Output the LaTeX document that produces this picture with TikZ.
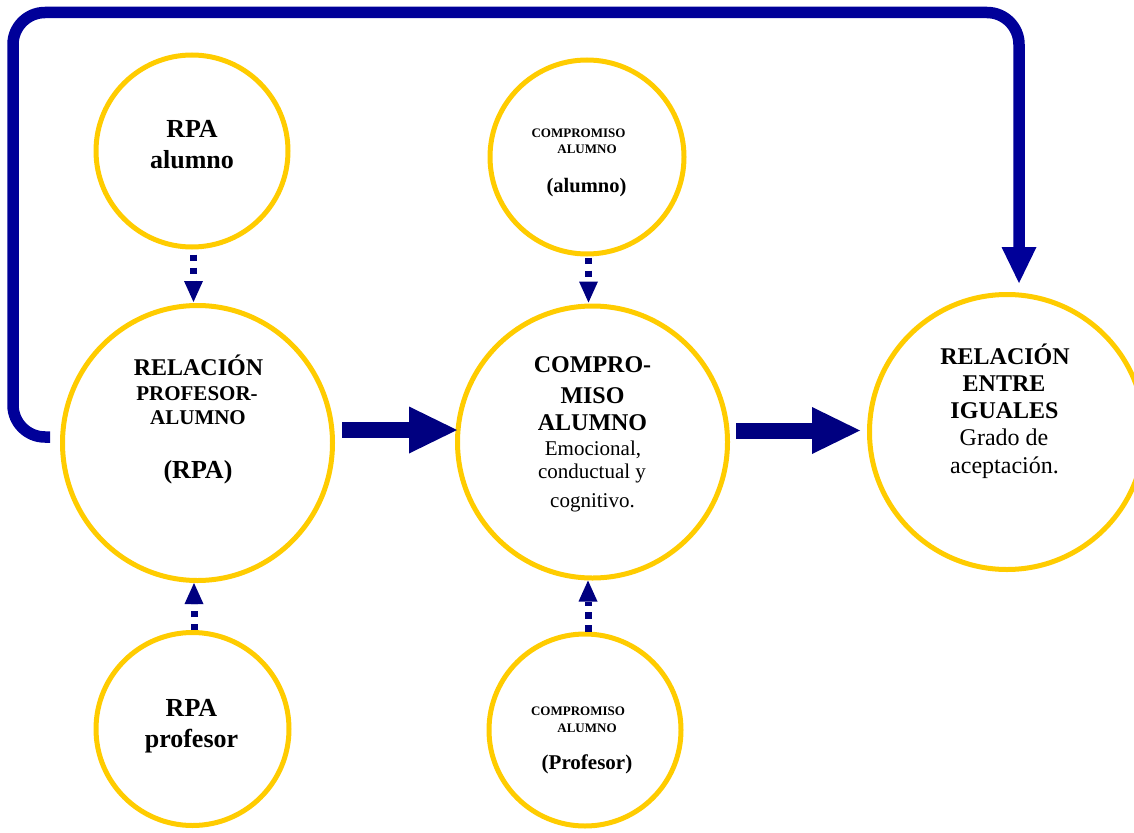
\documentclass[tikz,border=0pt]{standalone}
\usepackage{fontspec}
\setmainfont{Liberation Serif}
\usetikzlibrary{arrows.meta,calc,shapes.geometric}
\definecolor{ringgold}{RGB}{255,204,0}
\definecolor{arrownavy}{RGB}{0,0,128}
\definecolor{loopblue}{RGB}{0,0,153}
\newcommand\setfs[1]{\fontsize{#1}{#1}\selectfont}
\tikzset{
  ring/.style={ellipse, draw=ringgold, line width=5pt, inner sep=0pt, fill=white},
  lbl/.style={anchor=base, inner sep=0pt, text=black},
  bigarrow/.style={draw=arrownavy, line width=16pt,
    -{Triangle[length=48pt,width=47pt,line width=0pt]}},
  dotarrow/.style={draw=arrownavy, line width=7pt, dash pattern=on 6.5pt off 6.5pt,
    -{Triangle[length=21pt,width=19pt,line width=0pt]}},
  looparrow/.style={draw=loopblue, line width=11.5pt, rounded corners=32pt,
    -{Triangle[length=36pt,width=35pt,line width=0pt]}},
}
\begin{document}
\begin{tikzpicture}[x=1pt,y=-1pt]
\useasboundingbox (0,0) rectangle (1134,832);

% circles
\node[ring, minimum width=192pt, minimum height=192pt] (rpaA)  at (192,151) {};
\node[ring, minimum width=270pt, minimum height=275pt] (rpa)   at (197.5,443) {};
\node[ring, minimum width=193pt, minimum height=193pt] (rpaP)  at (192.5,729) {};
\node[ring, minimum width=194pt, minimum height=194pt] (compA) at (587,157) {};
\node[ring, minimum width=270pt, minimum height=272pt] (comp)  at (592.5,442) {};
\node[ring, minimum width=192pt, minimum height=192pt] (compP) at (585,730) {};
\node[ring, minimum width=275pt, minimum height=275pt] (igu)   at (1007,432) {};

% texts
\node[lbl, font=\setfs{26}\bfseries] (a1) at (192,138) {RPA};
\node[lbl, font=\setfs{26}\bfseries] (a2) at (192,168) {alumno};

\node[lbl, font=\setfs{24}\bfseries] (r1) at (198.5,375) {RELACIÓN};
\node[lbl, font=\setfs{21}\bfseries] (r2) at (197,400) {PROFESOR-};
\node[lbl, font=\setfs{21}\bfseries] (r3) at (198,424) {ALUMNO};
\node[lbl, font=\setfs{26}\bfseries] (r4) at (198,478) {(RPA)};

\node[lbl, font=\setfs{26}\bfseries] (p1) at (191.5,716) {RPA};
\node[lbl, font=\setfs{26}\bfseries] (p2) at (191.5,747) {profesor};

\node[lbl, font=\setfs{13}\bfseries] (ca1) at (578.5,138) {COMPROMISO};
\node[lbl, font=\setfs{13}\bfseries] (ca2) at (587,153) {ALUMNO};
\node[lbl, font=\setfs{20.5}\bfseries] (ca3) at (586.5,192) {(alumno)};

\node[lbl, font=\setfs{24}\bfseries] (c1) at (592.5,372) {COMPRO-};
\node[lbl, font=\setfs{24}\bfseries] (c2) at (592.5,403) {MISO};
\node[lbl, font=\setfs{24}\bfseries] (c3) at (592.5,430) {ALUMNO};
\node[lbl, font=\setfs{21}] (c4) at (593,455) {Emocional,};
\node[lbl, font=\setfs{21}] (c5) at (592,478) {conductual y};
\node[lbl, font=\setfs{21}] (c6) at (592.5,507) {cognitivo.};

\node[lbl, font=\setfs{13}\bfseries] (cp1) at (578,715) {COMPROMISO};
\node[lbl, font=\setfs{13}\bfseries] (cp2) at (587,732) {ALUMNO};
\node[lbl, font=\setfs{21}\bfseries] (cp3) at (587,769) {(Profesor)};

\node[lbl, font=\setfs{24}\bfseries] (g1) at (1005,364) {RELACIÓN};
\node[lbl, font=\setfs{24}\bfseries] (g2) at (1004,391) {ENTRE};
\node[lbl, font=\setfs{24}\bfseries] (g3) at (1004.5,418) {IGUALES};
\node[lbl, font=\setfs{24}] (g4) at (1004,445) {Grado de};
\node[lbl, font=\setfs{24}] (g5) at (1004.5,473) {aceptación.};

% main flow, kept horizontal
\coordinate (s1) at ($(rpa.east)+(7,-13)$);
\draw[bigarrow] (s1) -- ($(comp.west |- s1)+(2,0)$);
\coordinate (s2) at ($(comp.east)+(6,-11.5)$);
\draw[bigarrow] (s2) -- ($(igu.west |- s2)+(-7,0)$);

% dotted influences
\draw[dotarrow] ($(rpaA.south)+(1.5,5)$) -- ($(rpaA.south |- rpa.north)+(1.5,-1)$);
\draw[dotarrow] ($(rpaP.north)+(1.5,0)$) -- ($(rpaP.north |- rpa.south)+(1.5,0)$);
\draw[dotarrow] ($(compA.south)+(1.5,1)$) -- ($(compA.south |- comp.north)+(1.5,-1)$);
\draw[dotarrow] ($(compP.north)+(3,0)$) -- ($(compP.north |- comp.south)+(3,0)$);

% feedback loop over the top
\coordinate (loopcorner) at (13,12.5);
\draw[looparrow] ($(rpa.west)+(-10,-6)$) -| (loopcorner) -| ($(igu.north)+(12,-9)$);
\end{tikzpicture}
\end{document}
